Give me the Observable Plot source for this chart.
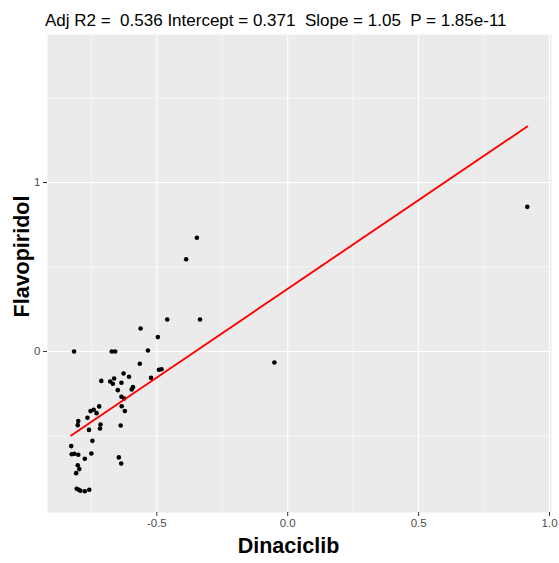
<!DOCTYPE html>
<html><head><meta charset="utf-8">
<script src="https://cdn.jsdelivr.net/npm/d3@7"></script>
<script src="https://cdn.jsdelivr.net/npm/@observablehq/plot@0.6"></script>
<style>
body{margin:0;background:#fff;font-family:"Liberation Sans",Arial,sans-serif;}
#title{height:34px;position:relative;}
#title span{position:absolute;left:45px;top:12px;font-size:17px;white-space:pre;color:#000;line-height:1}
#chart svg{display:block}
</style></head><body>
<div id="title"><span id="t"></span></div>
<div id="chart"></div>
<script>
const titleText = "Adj R2 =  0.536 Intercept = 0.371  Slope = 1.05  P = 1.85e-11";
const xLabel = "Dinaciclib";
const yLabel = "Flavopiridol";
const intercept = 0.371;
const slope = 1.05;

const xs = [-0.816,-0.672,-0.659,-0.496,-0.562,-0.534,-0.565,-0.492,-0.482,-0.522,
  -0.627,-0.606,-0.712,-0.678,-0.668,-0.663,-0.635,-0.649,-0.596,-0.591,
  -0.635,-0.625,-0.634,-0.622,-0.720,-0.741,-0.730,-0.753,-0.765,-0.800,
  -0.802,-0.759,-0.715,-0.717,-0.638,-0.746,-0.827,-0.825,-0.815,-0.800,
  -0.750,-0.775,-0.645,-0.636,-0.802,-0.796,-0.808,-0.806,-0.798,-0.792,
  -0.775,-0.758,-0.347,-0.388,-0.460,-0.335,-0.051,0.915];
const ys = [0.000,0.000,0.000,0.085,0.136,0.006,-0.073,-0.108,-0.105,-0.156,
  -0.130,-0.150,-0.174,-0.178,-0.191,-0.160,-0.185,-0.229,-0.225,-0.211,
  -0.268,-0.278,-0.324,-0.353,-0.325,-0.345,-0.365,-0.353,-0.392,-0.412,
  -0.436,-0.464,-0.432,-0.456,-0.438,-0.529,-0.560,-0.608,-0.605,-0.611,
  -0.604,-0.635,-0.627,-0.663,-0.673,-0.696,-0.720,-0.812,-0.818,-0.824,
  -0.827,-0.818,0.673,0.546,0.189,0.189,-0.065,0.856];

const xMajor = [-0.5, 0, 0.5, 1.0];
const xMinor = [-0.75, -0.25, 0.25, 0.75];
const yMajor = [0, 1];
const yMinor = [-0.5, 0.5, 1.5];
const xDomain = [-0.9175, 1.0075];
const yDomain = [-0.953, 1.876];

document.getElementById("t").textContent = titleText;

const pts = xs.map((x, i) => ({x, y: ys[i]}));
const ext = d3.extent(xs);
const fit = ext.map(x => ({x, y: intercept + slope * x}));

const chart = Plot.plot({
  width: 559, height: 529,
  marginTop: 0, marginBottom: 51, marginLeft: 47, marginRight: 8,
  style: {fontFamily: '"Liberation Sans", Arial, sans-serif', background: "white"},
  x: {domain: xDomain},
  y: {domain: yDomain},
  marks: [
    Plot.frame({fill: "#EBEBEB", stroke: null}),
    Plot.ruleX(xMinor, {stroke: "white", strokeWidth: 0.55}),
    Plot.ruleY(yMinor, {stroke: "white", strokeWidth: 0.55}),
    Plot.ruleX(xMajor, {stroke: "white", strokeWidth: 1.1}),
    Plot.ruleY(yMajor, {stroke: "white", strokeWidth: 1.1}),
    Plot.axisX({ticks: xMajor, tickFormat: d => d.toFixed(1), tickSize: 4, tickPadding: 2,
      stroke: "#333333", fill: "#4D4D4D", fontSize: 11.5, label: null}),
    Plot.axisY({ticks: yMajor, tickFormat: d => String(d), tickSize: 4, tickPadding: 3,
      stroke: "#333333", fill: "#4D4D4D", fontSize: 11.5, label: null}),
    Plot.dot(pts, {x: "x", y: "y", r: 2.3, fill: "black", stroke: null}),
    Plot.line(fit, {x: "x", y: "y", stroke: "#FF0000", strokeWidth: 1.9}),
    Plot.text([xLabel], {text: d => d, frameAnchor: "bottom", lineAnchor: "bottom",
      dx: -11, dy: 40, fontSize: 21.5, fontWeight: "bold", fill: "black"}),
    Plot.text([yLabel], {text: d => d, frameAnchor: "left", textAnchor: "middle", lineAnchor: "bottom", rotate: -90,
      dx: -19, dy: -17, fontSize: 21.5, fontWeight: "bold", fill: "black"})
  ]
});
document.getElementById("chart").appendChild(chart);
</script>
</body></html>
